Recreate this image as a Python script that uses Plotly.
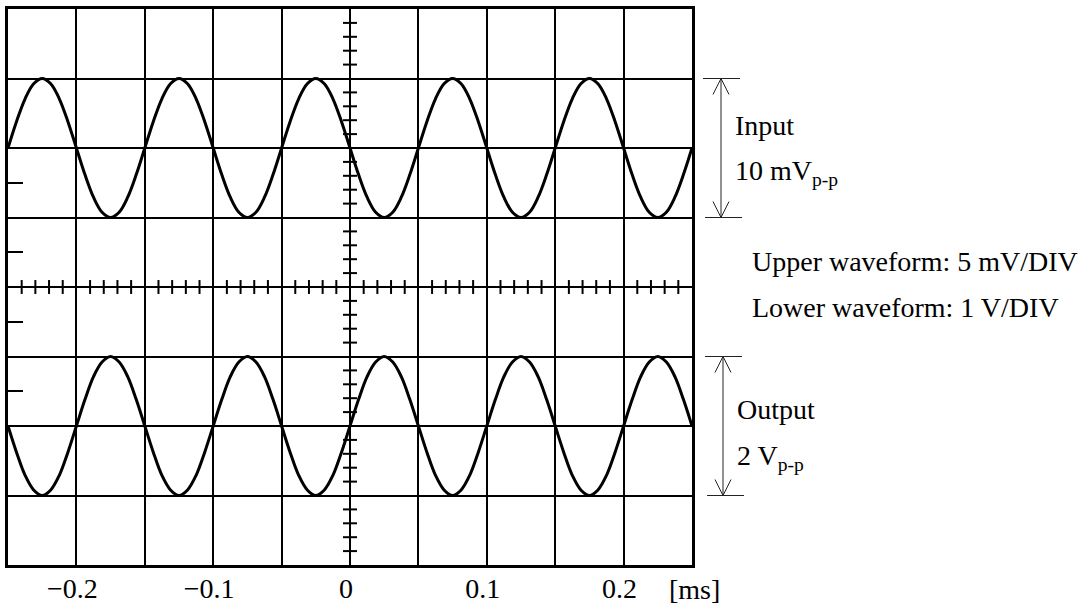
import plotly.graph_objects as go

# ---------------- data ----------------
# one period (0.1 ms) of each trace, read every 1/16 period
period_ms = 0.1
samples_per_period = 16
n_periods = 5
t_start_ms = -0.25

# input (upper trace) in mV, 10 mVp-p, rising through zero at t = -0.25 ms
input_period_mV = [0, 1.91, 3.54, 4.62, 5, 4.62, 3.54, 1.91,
                   0, -1.91, -3.54, -4.62, -5, -4.62, -3.54, -1.91]

# output (lower trace) in V, 2 Vp-p, inverted with respect to the input
output_period_V = [0, -0.38, -0.71, -0.92, -1, -0.92, -0.71, -0.38,
                   0, 0.38, 0.71, 0.92, 1, 0.92, 0.71, 0.38]

input_mV = input_period_mV * n_periods + [0]
output_V = output_period_V * n_periods + [0]
t_ms = [t_start_ms + i * period_ms / samples_per_period
        for i in range(len(input_mV))]

x_tick_vals = [-0.2, -0.1, 0, 0.1, 0.2]
x_tick_text = ["\u22120.2", "\u22120.1", "0", "0.1", "0.2"]

input_mV_per_div = 5.0
output_V_per_div = 1.0
input_offset_div = 2.0
output_offset_div = -2.0

# ---------------- scaling to screen divisions ----------------
upper_div = [input_offset_div + v / input_mV_per_div for v in input_mV]
lower_div = [output_offset_div + v / output_V_per_div for v in output_V]

FONT = "Liberation Serif, Times New Roman, serif"
BLACK = "#000000"
FS = 28

fig = go.Figure()

# centre-axis minor ticks (every 0.2 div)
h_ticks = [i * 0.01 for i in range(-24, 25) if i % 5 != 0]
v_ticks = [i * 0.2 for i in range(-19, 20) if i % 5 != 0]
tx, ty = [], []
for x in h_ticks:
    tx += [x, x, None]
    ty += [-0.1, 0.1, None]
for y in v_ticks:
    tx += [-0.0051, 0.0051, None]
    ty += [y, y, None]
fig.add_trace(go.Scatter(x=tx, y=ty, mode="lines",
                         line=dict(color=BLACK, width=2),
                         hoverinfo="skip", showlegend=False))

fig.add_trace(go.Scatter(x=t_ms, y=upper_div, mode="lines", name="Input",
                         line=dict(color=BLACK, width=3, shape="spline"),
                         showlegend=False))
fig.add_trace(go.Scatter(x=t_ms, y=lower_div, mode="lines", name="Output",
                         line=dict(color=BLACK, width=3, shape="spline"),
                         showlegend=False))

fig.update_layout(
    width=1092, height=608,
    margin=dict(l=8, r=400, t=9, b=43, autoexpand=False),
    paper_bgcolor="white", plot_bgcolor="white",
    font=dict(family=FONT, color=BLACK, size=FS),
    showlegend=False,
    xaxis=dict(range=[-0.25, 0.25], tickvals=x_tick_vals, ticktext=x_tick_text,
               showgrid=True, gridcolor=BLACK, gridwidth=2, zeroline=False,
               showline=True, mirror=True, linecolor=BLACK, linewidth=3,
               ticks="", ticklabelshift=-4, ticklabelstandoff=-4,
               automargin=False,
               tickfont=dict(family=FONT, size=FS, color=BLACK),
               minor=dict(dtick=0.05, tick0=0, showgrid=True,
                          gridcolor=BLACK, gridwidth=2, ticks=""),
               fixedrange=True),
    yaxis=dict(range=[-4, 4], tickvals=[-1.5, -0.5, 0.5, 1.5],
               ticks="inside", ticklen=15, tickwidth=2, tickcolor=BLACK,
               showticklabels=False, showgrid=False, zeroline=False,
               showline=True, mirror=True, linecolor=BLACK, linewidth=3,
               automargin=False,
               minor=dict(dtick=1, tick0=0, showgrid=True,
                          gridcolor=BLACK, gridwidth=2, ticks=""),
               fixedrange=True),
)

# ---------------- dimension arrows ----------------
PLOT_W = 684.0
def px(p):
    return (p - 8) / PLOT_W

def dim_arrow(xc, x0, x1, y_top, y_bot):
    c = "#222222"
    w = 1
    dx = 8 / PLOT_W
    dy = 0.23
    shapes = [
        dict(x0=px(xc), x1=px(xc), y0=y_top, y1=y_bot),
        dict(x0=px(x0), x1=px(x1), y0=y_top, y1=y_top),
        dict(x0=px(x0) + 0.003, x1=px(x1) + 0.003, y0=y_bot, y1=y_bot),
        dict(x0=px(xc), x1=px(xc) - dx, y0=y_top, y1=y_top - dy),
        dict(x0=px(xc), x1=px(xc) + dx, y0=y_top, y1=y_top - dy),
        dict(x0=px(xc), x1=px(xc) - dx, y0=y_bot, y1=y_bot + dy),
        dict(x0=px(xc), x1=px(xc) + dx, y0=y_bot, y1=y_bot + dy),
    ]
    for s in shapes:
        fig.add_shape(type="line", xref="paper", yref="y",
                      line=dict(color=c, width=w), **s)

dim_arrow(721, 703, 740, 3, 1)
dim_arrow(723, 705, 742, -1, -3)

def label(text, xpix, ydata):
    fig.add_annotation(text=text, xref="paper", yref="y", x=px(xpix), y=ydata,
                       xanchor="left", yanchor="middle", showarrow=False,
                       font=dict(family=FONT, size=FS, color=BLACK))

label("Input", 733, 2.317)
label("10 mV<sub>p-p</sub>", 733, 1.65)
label("Upper waveform: 5 mV/DIV", 750, 0.364)
label("Lower waveform: 1 V/DIV", 750, -0.30)
label("Output", 735, -1.76)
label("2 V<sub>p-p</sub>", 735, -2.45)

fig.add_annotation(text="[ms]", xref="paper", yref="paper", x=px(667), y=0,
                   xanchor="left", yanchor="middle", yshift=-24, showarrow=False,
                   font=dict(family=FONT, size=FS, color=BLACK))

fig.write_html("out.html", config={"displayModeBar": False},
               post_script="document.body.style.margin='0';")
